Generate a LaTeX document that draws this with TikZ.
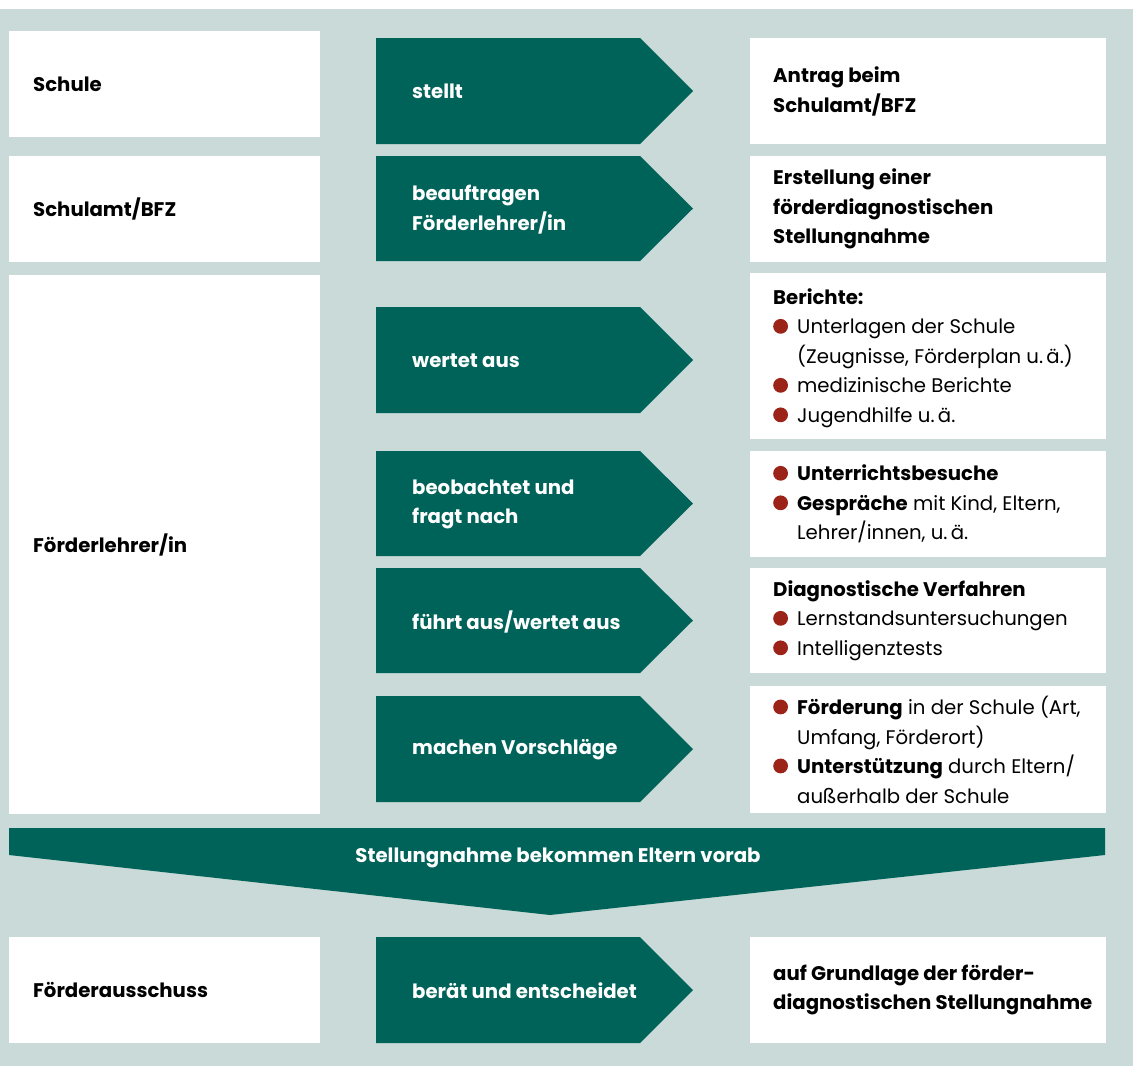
\documentclass[tikz,border=0pt]{standalone}
\usepackage{fontspec}
\setmainfont{Poppins}
\definecolor{tealdark}{RGB}{0,99,90}
\definecolor{bgcol}{RGB}{201,218,216}
\definecolor{bulred}{RGB}{155,35,24}
\newcommand\bul{\makebox[24pt][l]{\tikz[baseline=0pt]\fill[bulred] (8pt,7.6pt) circle (7.4pt);}}
\newcommand\hin{\hspace*{24pt}}
\newcommand\fs{\fontsize{19.7}{29.5}\selectfont}
\tikzset{
  wbox/.style={fill=white, inner sep=0pt, anchor=north west},
  lbl/.style={inner sep=0pt, anchor=west, align=left, font=\fs\bfseries},
  albl/.style={inner sep=0pt, anchor=west, align=left, font=\fs\bfseries, text=white},
  rtxt/.style={inner sep=0pt, anchor=west, align=left, font=\fs},
  parr/.style={fill=tealdark},
}
\begin{document}
\begin{tikzpicture}[x=1pt,y=-1pt]
\useasboundingbox (0,0) rectangle (1133,1066);
\fill[bgcol] (0,9) rectangle (1133,1066);

% left column
\node[wbox, minimum width=311pt, minimum height=106pt] (L1) at (9,31) {};
\node[wbox, minimum width=311pt, minimum height=106pt] (L2) at (9,156) {};
\node[wbox, minimum width=311pt, minimum height=539pt] (L3) at (9,275) {};
\node[wbox, minimum width=311pt, minimum height=106pt] (L4) at (9,937) {};
\node[lbl] (tL1) at ([xshift=24pt]L1.west) {Schule};
\node[lbl] (tL2) at ([xshift=24pt]L2.west) {Schulamt/BFZ};
\node[lbl] (tL3) at ([xshift=24pt]L3.west) {Förderlehrer/in};
\node[lbl] (tL4) at ([xshift=24pt]L4.west) {Förderausschuss};

% middle arrows
\fill[parr] (376,38) -- (640,38) -- (693,91) -- (640,144) -- (376,144) -- cycle;
\node[albl] (a1) at (412,91) {stellt};
\fill[parr] (376,156) -- (640,156) -- (693,208.5) -- (640,261) -- (376,261) -- cycle;
\node[albl] (a2) at (412,209.5) {beauftragen\\Förderlehrer/in};
\fill[parr] (376,307) -- (640,307) -- (693,360) -- (640,413) -- (376,413) -- cycle;
\node[albl] (a3) at (412,361) {wertet aus};
\fill[parr] (376,451) -- (640,451) -- (693,503.5) -- (640,556) -- (376,556) -- cycle;
\node[albl] (a4) at (412,504.5) {beobachtet und\\fragt nach};
\fill[parr] (376,568) -- (640,568) -- (693,620.5) -- (640,673) -- (376,673) -- cycle;
\node[albl] (a5) at (412,621.5) {führt aus/wertet aus};
\fill[parr] (376,696) -- (640,696) -- (693,749) -- (640,802) -- (376,802) -- cycle;
\node[albl] (a6) at (412,750) {machen Vorschläge};
\fill[parr] (376,937) -- (640,937) -- (693,990) -- (640,1043) -- (376,1043) -- cycle;
\node[albl] (a7) at (412,991) {berät und entscheidet};

% right column
\node[wbox, minimum width=356pt, minimum height=106pt] (R1) at (750,38) {};
\node[wbox, minimum width=356pt, minimum height=106pt] (R2) at (750,156) {};
\node[wbox, minimum width=356pt, minimum height=166pt] (R3) at (750,273) {};
\node[wbox, minimum width=356pt, minimum height=106pt] (R4) at (750,451) {};
\node[wbox, minimum width=356pt, minimum height=105pt] (R5) at (750,568) {};
\node[wbox, minimum width=356pt, minimum height=127pt] (R6) at (750,686) {};
\node[wbox, minimum width=356pt, minimum height=106pt] (R7) at (750,937) {};

\node[rtxt, font=\fs\bfseries] (tR1) at ([xshift=23pt]R1.west) {Antrag beim\\Schulamt/BFZ};
\node[rtxt, font=\fs\bfseries] (tR2) at ([xshift=23pt]R2.west) {Erstellung einer\\förderdiagnostischen\\Stellungnahme};
\node[rtxt] (tR3) at ([xshift=23pt,yshift=-2pt]R3.west) {\textbf{Berichte:}\\
  \bul Unterlagen der Schule\\
  \hin(Zeugnisse, Förderplan u.\,ä.)\\
  \bul medizinische Berichte\\
  \bul Jugendhilfe u.\,ä.};
\node[rtxt] (tR4) at ([xshift=23pt]R4.west) {\bul\textbf{Unterrichtsbesuche}\\
  \bul\textbf{Gespräche} mit Kind, Eltern,\\
  \hin Lehrer/innen, u.\,ä.};
\node[rtxt] (tR5) at ([xshift=23pt]R5.west) {\textbf{Diagnostische Verfahren}\\
  \bul Lernstandsuntersuchungen\\
  \bul Intelligenztests};
\node[rtxt] (tR6) at ([xshift=23pt]R6.west) {\bul\textbf{Förderung} in der Schule (Art,\\
  \hin Umfang, Förderort)\\
  \bul\textbf{Unterstützung} durch Eltern/\\
  \hin außerhalb der Schule};
\node[rtxt, font=\fs\bfseries] (tR7) at ([xshift=23pt]R7.west) {auf Grundlage der förder-\\diagnostischen Stellungnahme};

% big down arrow
\fill[parr] (9,828) -- (1105,828) -- (1105,855) -- (550,915) -- (9,855) -- cycle;
\node[albl, anchor=center] (big) at (558,858) {Stellungnahme bekommen Eltern vorab};
\end{tikzpicture}
\end{document}
